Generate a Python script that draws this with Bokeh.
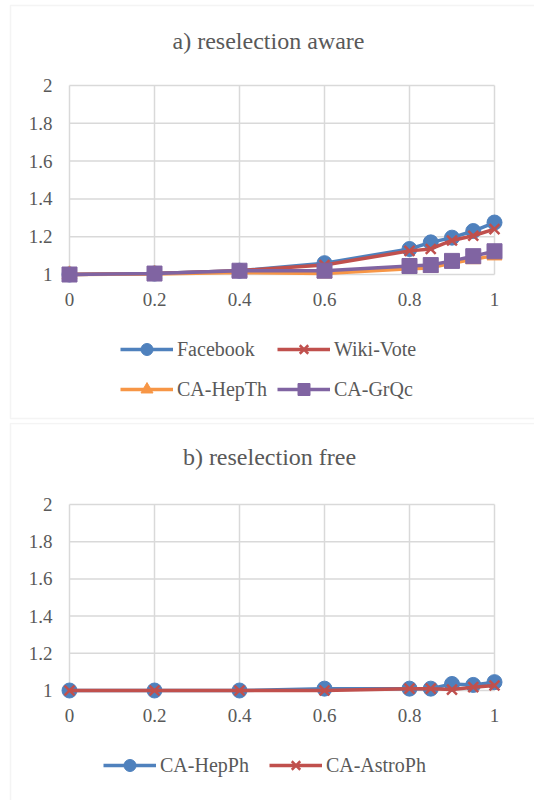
from bokeh.plotting import figure
from bokeh.models import (Range1d, FixedTicker, CustomJSTickFormatter, Legend,
                          LegendItem, BoxAnnotation, Label)
from bokeh.layouts import column
from bokeh.embed import file_html
from bokeh.resources import INLINE

FONT = "'Liberation Serif', serif"
TEXT = "#595959"
GRID = "#D9D9D9"

# ---- data ----
x_vals = [0, 0.2, 0.4, 0.6, 0.8, 0.85, 0.9, 0.95, 1]
x_ticks = [0, 0.2, 0.4, 0.6, 0.8, 1]
y_ticks = [1, 1.2, 1.4, 1.6, 1.8, 2]

facebook = [1.0, 1.005, 1.02, 1.06, 1.135, 1.17, 1.195, 1.23, 1.275]
wiki_vote = [1.0, 1.005, 1.02, 1.05, 1.125, 1.135, 1.18, 1.205, 1.24]
ca_hepth = [1.0, 1.003, 1.01, 1.005, 1.03, 1.035, 1.06, 1.08, 1.10]
ca_grqc = [1.0, 1.005, 1.02, 1.02, 1.045, 1.05, 1.072, 1.097, 1.123]

ca_hepph = [1.0, 1.0, 1.0, 1.01, 1.01, 1.01, 1.035, 1.03, 1.045]
ca_astroph = [1.0, 1.0, 1.0, 1.0, 1.01, 1.01, 1.005, 1.018, 1.027]

panel_a = [("Facebook", facebook, "#4F81BD", "circle"),
           ("Wiki-Vote", wiki_vote, "#C0504D", "x"),
           ("CA-HepTh", ca_hepth, "#F79646", "triangle"),
           ("CA-GrQc", ca_grqc, "#8064A2", "square")]
panel_b = [("CA-HepPh", ca_hepph, "#4F81BD", "circle"),
           ("CA-AstroPh", ca_astroph, "#C0504D", "x")]

W = 534
X0_PX, X1_PX = 69, 494          # pixel columns of x = 0 and x = 1


def make_panel(title_text, title_px, series, height, y_top_px, y_bot_px,
               legend_loc, ncols, legend_spacing, box_top, box_bottom):
    xpx = (X1_PX - X0_PX) / (x_ticks[-1] - x_ticks[0])
    ypx = (y_bot_px - y_top_px) / (y_ticks[-1] - y_ticks[0])
    x_start = x_ticks[0] - X0_PX / xpx
    x_end = x_ticks[0] + (W - X0_PX) / xpx
    y_end = y_ticks[-1] + y_top_px / ypx
    y_start = y_ticks[0] - (height - y_bot_px) / ypx

    p = figure(width=W, height=height,
               x_range=Range1d(x_start, x_end), y_range=Range1d(y_start, y_end),
               output_backend="svg", toolbar_location=None, min_border=0)
    p.outline_line_color = None
    p.grid.visible = False
    p.title.visible = False

    # panel border
    p.add_layout(BoxAnnotation(left=10, right=W + 30, top=box_top, bottom=box_bottom,
                               left_units="canvas", right_units="canvas",
                               top_units="canvas", bottom_units="canvas",
                               fill_color=None, fill_alpha=0, level="underlay",
                               line_color=GRID, line_width=1.5))

    # grid
    p.segment(x0=x_ticks, y0=[y_ticks[0]] * len(x_ticks), x1=x_ticks,
              y1=[y_ticks[-1]] * len(x_ticks), line_color=GRID, line_width=1.5)
    p.segment(x0=[x_ticks[0]] * len(y_ticks), y0=y_ticks, x1=[x_ticks[-1]] * len(y_ticks),
              y1=y_ticks, line_color=GRID, line_width=1.5)

    fmt = CustomJSTickFormatter(code="return tick.toString();")
    for ax, ticks in ((p.xaxis[0], x_ticks), (p.yaxis[0], y_ticks)):
        ax.ticker = FixedTicker(ticks=ticks)
        ax.formatter = fmt
        ax.axis_line_color = None
        ax.major_tick_line_color = None
        ax.minor_tick_line_color = None
        ax.major_tick_out = 0
        ax.major_tick_in = 0
        ax.major_label_text_font = FONT
        ax.major_label_text_font_size = "19px"
        ax.major_label_text_color = TEXT
    p.xaxis[0].fixed_location = y_ticks[0]
    p.yaxis[0].fixed_location = x_ticks[0]
    p.xaxis[0].major_label_standoff = 18
    p.yaxis[0].major_label_standoff = 17

    items = []
    for name, ys, color, marker in series:
        l = p.line(x_vals, ys, line_color=color, line_width=3.5)
        if marker == "x":
            s = p.scatter(x_vals, ys, marker="x", size=14, line_color=color, line_width=2.5)
        else:
            s = p.scatter(x_vals, ys, marker=marker, size=15, fill_color=color,
                          line_color=color)
        items.append(LegendItem(label=name, renderers=[l, s]))

    legend = Legend(items=items, location=legend_loc, orientation="horizontal",
                    ncols=ncols,
                    glyph_width=53, glyph_height=30, label_height=30, spacing=legend_spacing,
                    label_standoff=4, padding=10, margin=0, border_line_color=None,
                    background_fill_alpha=0, label_text_font=FONT,
                    label_text_font_size="20px", label_text_color=TEXT)
    p.add_layout(legend, "center")

    # title, centred on its pixel position in the panel
    tx = x_ticks[0] + (title_px[0] - X0_PX) / xpx
    ty = y_ticks[-1] + (y_top_px - title_px[1]) / ypx
    p.add_layout(Label(x=tx, y=ty, text=title_text, text_align="center",
                       text_baseline="middle", text_font=FONT, text_font_size="24px",
                       text_color=TEXT))
    return p


p1 = make_panel("a) reselection aware", (268, 40), panel_a, 420, 85, 274,
                (120, 16), 2, 10, 5, 418)
p2 = make_panel("b) reselection free", (269, 34), panel_b, 378, 82, 268,
                (103, 20), 2, 20, 1, 400)

layout = column(p1, p2, spacing=2)
open("out.html", "w").write(file_html(layout, INLINE))
